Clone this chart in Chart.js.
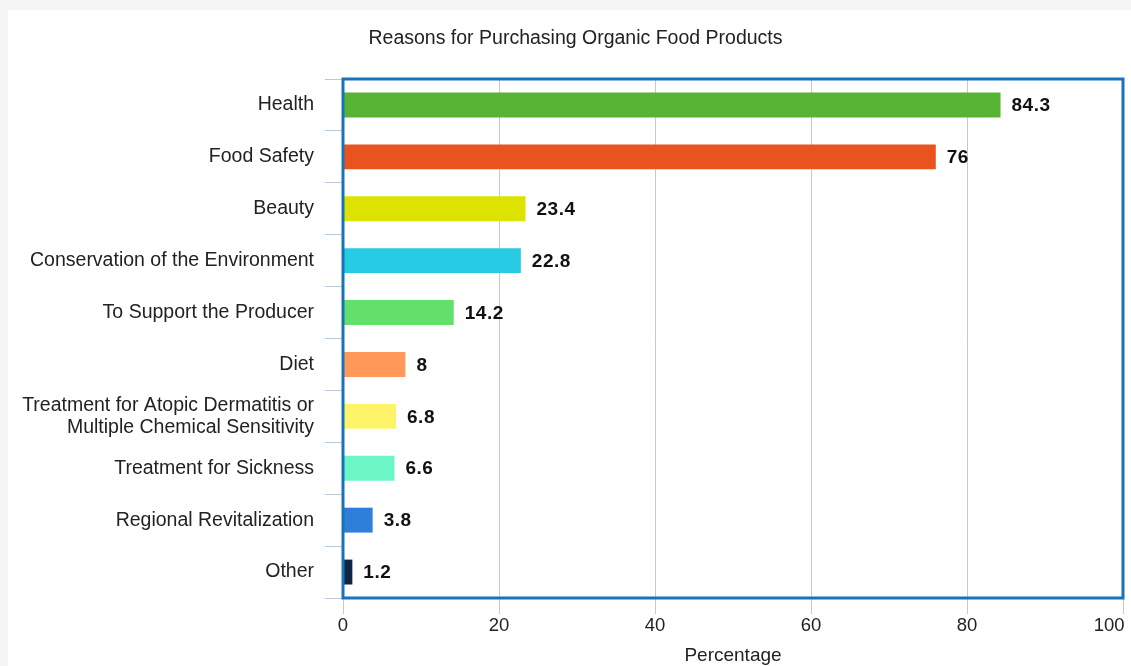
<!DOCTYPE html>
<html>
<head>
<meta charset="utf-8">
<script src="https://cdn.jsdelivr.net/npm/chart.js@4"></script>
<style>
  html, body { margin: 0; padding: 0; background: #f5f5f5; overflow: hidden; }
  #wrap { width: 1131px; height: 666px; position: relative; overflow: hidden; }
</style>
</head>
<body>
<div id="wrap"><canvas id="barChart" width="1151" height="666"></canvas></div>
<script>
const chartTitle = 'Reasons for Purchasing Organic Food Products';
const reasons = [
    'Health',
    'Food Safety',
    'Beauty',
    'Conservation of the Environment',
    'To Support the Producer',
    'Diet',
    ['Treatment for Atopic Dermatitis or', 'Multiple Chemical Sensitivity'],
    'Treatment for Sickness',
    'Regional Revitalization',
    'Other'
];
const percentages = [84.3, 76, 23.4, 22.8, 14.2, 8, 6.8, 6.6, 3.8, 1.2];
const barColors = ['#56b334', '#e9531d', '#dde200', '#27cbe4', '#63e06b',
                   '#ff9858', '#fff36a', '#6cf6c6', '#2d7fd9', '#102444'];
const xTicks = [0, 20, 40, 60, 80, 100];

const fontFamily = '"Liberation Sans", Arial, sans-serif';

// card background + blue plot border + value labels
const decor = {
    id: 'decor',
    beforeDraw(chart) {
        const c = chart.ctx;
        c.save();
        c.fillStyle = '#f5f5f5';
        c.fillRect(0, 0, chart.width, chart.height);
        c.fillStyle = '#ffffff';
        c.fillRect(8, 10, chart.width - 8, chart.height - 10);
        c.restore();
    },
    afterDatasetsDraw(chart) {
        const c = chart.ctx;
        const meta = chart.getDatasetMeta(0);
        c.save();
        c.font = 'bold 19px ' + fontFamily;
        c.letterSpacing = '0.5px';
        c.fillStyle = '#111111';
        c.textAlign = 'left';
        c.textBaseline = 'middle';
        meta.data.forEach((bar, i) => {
            c.fillText(String(percentages[i]), bar.x + 11, bar.y + 1);
        });
        c.letterSpacing = '0px';
        const a = chart.chartArea;
        c.strokeStyle = '#1a72b8';
        c.lineWidth = 3;
        c.strokeRect(a.left, a.top, a.right - a.left, a.bottom - a.top);
        c.restore();
    }
};

const ctxBar = document.getElementById('barChart').getContext('2d');
const barChart = new Chart(ctxBar, {
    type: 'bar',
    data: {
        labels: reasons,
        datasets: [{
            data: percentages,
            backgroundColor: barColors,
            borderWidth: 0,
            barPercentage: 0.48,
            categoryPercentage: 1
        }]
    },
    options: {
        indexAxis: 'y',
        responsive: false,
        animation: false,
        layout: { padding: 0 },
        plugins: {
            legend: { display: false },
            tooltip: { enabled: false },
            title: {
                display: true,
                text: chartTitle,
                color: '#222222',
                font: { family: fontFamily, size: 19.5, weight: 'normal' },
                padding: { top: 27, bottom: 28.6 }
            }
        },
        scales: {
            x: {
                min: 0,
                max: 100,
                afterBuildTicks(scale) {
                    scale.ticks = xTicks.map(v => ({ value: v }));
                },
                afterFit(scale) {
                    scale.height = 68;
                    scale.paddingRight = 28;
                    scale.paddingLeft = 0;
                },
                border: { display: false },
                grid: {
                    color: '#c8c8c8',
                    lineWidth: 1,
                    tickLength: 16,
                    tickColor: '#c8c8c8'
                },
                ticks: {
                    color: '#222222',
                    padding: 1,
                    maxRotation: 0,
                    font: { family: fontFamily, size: 18.5 },
                    callback: v => v === 100 ? '100\u2002\u2002\u2002' : String(v)
                },
                title: {
                    display: true,
                    text: 'Percentage',
                    color: '#222222',
                    font: { family: fontFamily, size: 19 },
                    padding: { top: 4, bottom: -1 }
                }
            },
            y: {
                afterFit(scale) {
                    scale.width = 343;
                    scale.paddingTop = 0;
                    scale.paddingBottom = 0;
                },
                border: { display: false },
                grid: {
                    drawOnChartArea: false,
                    tickLength: 18,
                    color: '#b9c9db',
                    tickColor: '#b9c9db'
                },
                ticks: {
                    color: '#222222',
                    padding: 11,
                    font: { family: fontFamily, size: 19.5, lineHeight: 1.15 }
                }
            }
        }
    },
    plugins: [decor]
});
</script>
</body>
</html>
